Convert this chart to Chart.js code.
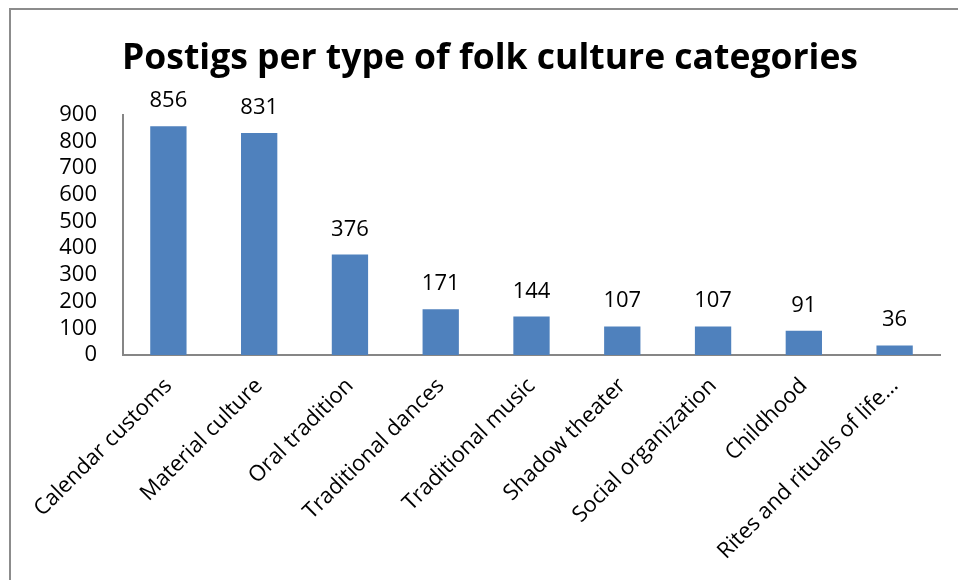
<!DOCTYPE html>
<html>
<head>
<meta charset="utf-8">
<script src="https://cdn.jsdelivr.net/npm/chart.js@4.4.0/dist/chart.umd.min.js"></script>
<style>
html,body{margin:0;padding:0;background:#fff;}
#wrap{width:958px;height:580px;position:relative;}
</style>
</head>
<body>
<div id="wrap"><canvas id="c" width="958" height="580"></canvas></div>
<script>
const categories = ["Calendar customs","Material culture","Oral tradition","Traditional dances","Traditional music","Shadow theater","Social organization","Childhood","Rites and rituals of life…"];
const postings = [856, 831, 376, 171, 144, 107, 107, 91, 36];
const yTicks = [0,100,200,300,400,500,600,700,800,900];
const titleText = "Postigs per type of folk culture categories";

const FONT = "'Open Sans', 'Liberation Sans', sans-serif";

const frame = {
  id: 'frame',
  beforeDraw(chart) {
    const ctx = chart.ctx;
    ctx.save();
    ctx.fillStyle = '#fff';
    ctx.fillRect(0,0,chart.width,chart.height);
    ctx.strokeStyle = '#8c8c8c';
    ctx.lineWidth = 2;
    ctx.strokeRect(10, 9, 2000, 2000);
    ctx.restore();
  }
};

const valueLabels = {
  id: 'valueLabels',
  afterDatasetsDraw(chart) {
    const ctx = chart.ctx;
    const meta = chart.getDatasetMeta(0);
    ctx.save();
    ctx.font = "22px " + FONT;
    ctx.fillStyle = '#000';
    ctx.textAlign = 'center';
    ctx.textBaseline = 'alphabetic';
    meta.data.forEach((bar, i) => {
      ctx.fillText(String(chart.data.datasets[0].data[i]), bar.x, bar.y - 19);
    });
    ctx.restore();
  }
};

new Chart(document.getElementById('c'), {
  type: 'bar',
  data: {
    labels: categories,
    datasets: [{
      data: postings,
      backgroundColor: '#4F81BD',
      borderWidth: 0,
      categoryPercentage: 1,
      barPercentage: 0.4
    }]
  },
  options: {
    responsive: false,
    animation: false,
    layout: { padding: { left: 40, right: 18, top: 0, bottom: 0 } },
    plugins: {
      legend: { display: false },
      tooltip: { enabled: false },
      title: {
        display: true,
        text: titleText,
        color: '#000',
        font: { family: FONT, size: 35.5, weight: 'bold', lineHeight: 1.2 },
        padding: { top: 38, bottom: 34 }
      }
    },
    scales: {
      x: {
        grid: { display: false, drawTicks: false },
        border: { display: true, color: '#868686', width: 2 },
        ticks: {
          color: '#000',
          font: { family: FONT, size: 22 },
          maxRotation: 45,
          minRotation: 45,
          padding: 18,
          autoSkip: false
        },
        afterFit(scale) { scale.height = 225; }
      },
      y: {
        min: 0,
        max: 900,
        afterBuildTicks(scale) { scale.ticks = yTicks.map(v => ({ value: v })); },
        grid: { display: false, drawTicks: false },
        border: { display: true, color: '#868686', width: 2 },
        ticks: {
          color: '#000',
          font: { family: FONT, size: 22 },
          padding: 26,
          autoSkip: false
        },
        afterFit(scale) { scale.width = 83; }
      }
    }
  },
  plugins: [frame, valueLabels]
});
</script>
</body>
</html>
